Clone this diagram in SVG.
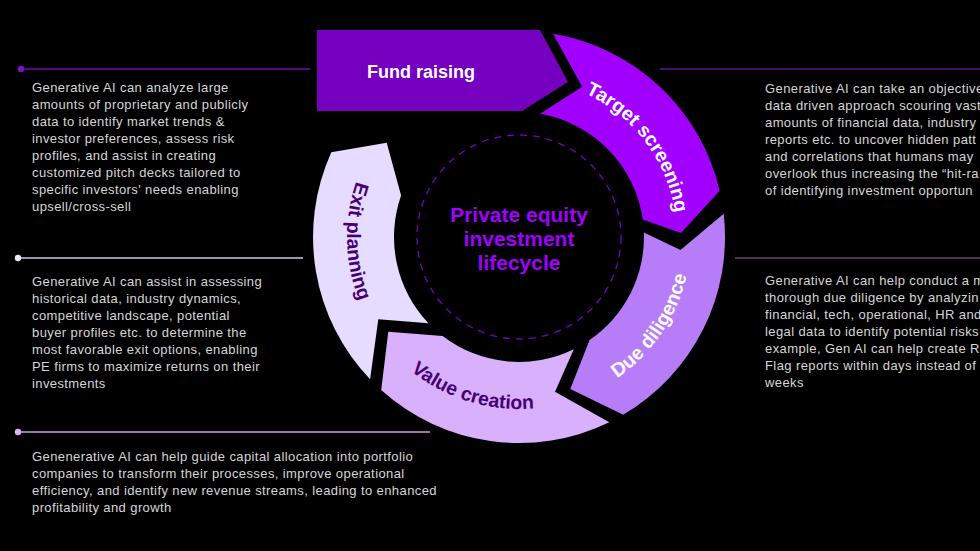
<svg xmlns="http://www.w3.org/2000/svg" width="980" height="551" viewBox="0 0 980 551">
<style>
.body{font-family:"Liberation Sans",Arial,sans-serif;font-size:13px;letter-spacing:0.4px;fill:#d6d6d6}
.lbl{font-family:"Liberation Sans",Arial,sans-serif;font-weight:bold;font-size:19.5px}
.w{fill:#ffffff}
.d{fill:#460073}
.ctr{font-family:"Liberation Sans",Arial,sans-serif;font-weight:bold;font-size:21px;fill:#a100ff}
</style>
<defs>
<path id="pTS" d="M527.3,79.2 A158 158 0 0 1 673,272.5"/>
<path id="pDD" d="M537,408.1 A172 172 0 0 0 684.3,189.6"/>
<path id="pVC" d="M360.7,304.2 A172 172 0 0 0 612.7,381.3"/>
<path id="pEP" d="M405,108.2 A172 172 0 0 0 411.9,371.6"/>
</defs>
<rect width="980" height="551" fill="#000"/>

<g id="connectors" stroke-width="1.5" fill="none">
<line x1="21" y1="69" x2="310" y2="69" stroke="#6e0cb4"/>
<circle cx="21" cy="69" r="3.2" fill="#7a10c8" stroke="none"/>
<line x1="18" y1="258" x2="303" y2="258" stroke="#cfc6e6"/>
<circle cx="18" cy="258" r="3.2" fill="#ece6ff" stroke="none"/>
<line x1="18" y1="432" x2="430" y2="432" stroke="#c89ee6"/>
<circle cx="18" cy="432" r="3.2" fill="#dcafff" stroke="none"/>
<line x1="660" y1="69" x2="980" y2="69" stroke="#5e1394"/>
<line x1="735" y1="258" x2="980" y2="258" stroke="#5a4678"/>
</g>

<g id="fund-raising">
<polygon points="317,30 540,30 568,82 522,111 317,111" fill="#7500c0"/>
<text class="lbl w" x="421" y="78" text-anchor="middle" style="font-size:18px">Fund raising</text>
</g>

<g id="target-screening">
<path d="M553,33.8 A206 206 0 0 1 719.7,190.7 L681,233 L642.8,219.6 A125 125 0 0 0 540.1,113.8 L582.2,86.7 Z" fill="#a100ff"/>
<text class="lbl w"><textPath href="#pTS" startOffset="50%" text-anchor="middle">Target screening</textPath></text>
</g>

<g id="due-diligence">
<path d="M723.7,213.7 A206 206 0 0 1 623.2,414.7 L570.3,389 L589.6,340.1 A125 125 0 0 0 643.9,232.6 L680.5,250 Z" fill="#b77cf8"/>
<text class="lbl w"><textPath href="#pDD" startOffset="50%" text-anchor="middle">Due diligence</textPath></text>
</g>

<g id="value-creation">
<path d="M609.3,422.2 A206 206 0 0 1 381.2,390.1 L388.3,331.7 L442.7,336 A125 125 0 0 0 573.8,349.3 L555,391.7 Z" fill="#d8b0fc"/>
<text class="lbl d"><textPath href="#pVC" startOffset="50%" text-anchor="middle">Value creation</textPath></text>
</g>

<g id="exit-planning">
<path d="M370.1,379.3 A206 206 0 0 1 331.3,152.2 L386.7,142.7 L401.1,195.5 A125 125 0 0 0 428.5,323.2 L378.3,319.3 Z" fill="#e6dcff"/>
<text class="lbl d"><textPath href="#pEP" startOffset="50%" text-anchor="middle">Exit planning</textPath></text>
</g>

<g id="center">
<circle cx="519" cy="237" r="102" fill="none" stroke="#7500c0" stroke-width="1.3" stroke-dasharray="7 6"/>
<text class="ctr" x="519" y="222" text-anchor="middle">Private equity</text>
<text class="ctr" x="519" y="246" text-anchor="middle">investment</text>
<text class="ctr" x="519" y="270" text-anchor="middle">lifecycle</text>
</g>

<g id="note-fund-raising" class="body">
<text x="32" y="92">Generative AI can analyze large</text>
<text x="32" y="109">amounts of proprietary and publicly</text>
<text x="32" y="126">data to identify market trends &amp;</text>
<text x="32" y="143">investor preferences, assess risk</text>
<text x="32" y="160">profiles, and assist in creating</text>
<text x="32" y="177">customized pitch decks tailored to</text>
<text x="32" y="194">specific investors' needs enabling</text>
<text x="32" y="211">upsell/cross-sell</text>
</g>

<g id="note-exit-planning" class="body">
<text x="32" y="286">Generative AI can assist in assessing</text>
<text x="32" y="303">historical data, industry dynamics,</text>
<text x="32" y="320">competitive landscape, potential</text>
<text x="32" y="337">buyer profiles etc. to determine the</text>
<text x="32" y="354">most favorable exit options, enabling</text>
<text x="32" y="371">PE firms to maximize returns on their</text>
<text x="32" y="388">investments</text>
</g>

<g id="note-value-creation" class="body">
<text x="32" y="461">Genenerative AI can help guide capital allocation into portfolio</text>
<text x="32" y="478">companies to transform their processes, improve operational</text>
<text x="32" y="495">efficiency, and identify new revenue streams, leading to enhanced</text>
<text x="32" y="512">profitability and growth</text>
</g>

<g id="note-target-screening" class="body">
<text x="765" y="93">Generative AI can take an objective</text>
<text x="765" y="110">data driven approach scouring vast</text>
<text x="765" y="127">amounts of financial data, industry</text>
<text x="765" y="144">reports etc. to uncover hidden patt</text>
<text x="765" y="161">and correlations that humans may</text>
<text x="765" y="178">overlook thus increasing the “hit-ra</text>
<text x="765" y="195">of identifying investment opportun</text>
</g>

<g id="note-due-diligence" class="body">
<text x="765" y="285">Generative AI can help conduct a m</text>
<text x="765" y="302">thorough due diligence by analyzin</text>
<text x="765" y="319">financial, tech, operational, HR and</text>
<text x="765" y="336">legal data to identify potential risks</text>
<text x="765" y="353">example, Gen AI can help create Re</text>
<text x="765" y="370">Flag reports within days instead of</text>
<text x="765" y="387">weeks</text>
</g>
</svg>
